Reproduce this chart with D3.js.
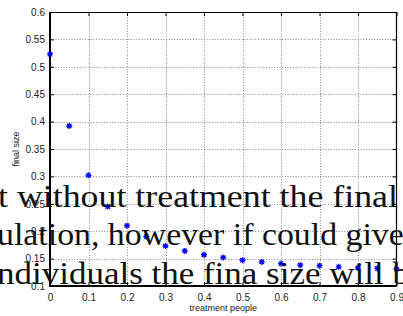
<!DOCTYPE html>
<html>
<head>
<meta charset="utf-8">
<script src="https://cdn.jsdelivr.net/npm/d3@7"></script>
<style>
  html, body { margin: 0; padding: 0; background: #fff; }
  svg { display: block; }
  .overlay { font-family: "Liberation Serif", "Times New Roman", Times, serif; }
  .sans { font-family: "Liberation Sans", Arial, Helvetica, sans-serif; }
</style>
</head>
<body>
<svg id="chart" width="403" height="316"></svg>
<script>
// ---- data ----
const treatment = [0, 0.05, 0.1, 0.15, 0.2, 0.25, 0.3, 0.35, 0.4, 0.45, 0.5, 0.55, 0.6, 0.65, 0.7, 0.75, 0.8, 0.85, 0.9];
const finalSize = [0.523, 0.392, 0.302, 0.245, 0.210, 0.190, 0.173, 0.164, 0.157, 0.152, 0.147, 0.144, 0.141, 0.138, 0.137, 0.135, 0.133, 0.132, 0.131];
const xTicks = [0, 0.1, 0.2, 0.3, 0.4, 0.5, 0.6, 0.7, 0.8, 0.9];
const yTicks = [0.1, 0.15, 0.2, 0.25, 0.3, 0.35, 0.4, 0.45, 0.5, 0.55, 0.6];
const xLabel = "treatment people";
const yLabel = "final size";
const overlayLines = [
  "t without treatment the final",
  "ulation, however if could give",
  "ndividuals the fina size will b"
];

// ---- layout ----
const L = 50, R = 396.5, T = 12, B = 286;
const svg = d3.select("#chart");
const x = d3.scaleLinear().domain([0, 0.9]).range([L, R]);
const y = d3.scaleLinear().domain([0.1, 0.6]).range([B, T]);

// grid
const grid = svg.append("g").attr("stroke", "#8a8a8a").attr("stroke-width", 1)
  .attr("stroke-dasharray", "1,1.7").attr("fill", "none");
xTicks.slice(1, -1).forEach(v => {
  grid.append("line").attr("x1", Math.round(x(v)) + 0.5).attr("x2", Math.round(x(v)) + 0.5)
    .attr("y1", T).attr("y2", B);
});
yTicks.slice(1, -1).forEach(v => {
  grid.append("line").attr("y1", Math.round(y(v)) + 0.5).attr("y2", Math.round(y(v)) + 0.5)
    .attr("x1", L).attr("x2", R);
});

// axes
const fmt = d => String(+d.toFixed(2));
const xAxis = d3.axisBottom(x).tickValues(xTicks).tickSize(-4).tickPadding(8).tickFormat(fmt);
const yAxis = d3.axisLeft(y).tickValues(yTicks).tickSize(-4).tickPadding(5).tickFormat(fmt);
const gx = svg.append("g").attr("transform", `translate(0,${B})`).call(xAxis);
const gy = svg.append("g").attr("transform", `translate(${L},0)`).call(yAxis);
const gxt = svg.append("g").attr("transform", `translate(0,${T})`).call(d3.axisTop(x).tickValues(xTicks).tickSize(-4).tickFormat(""));
const gyr = svg.append("g").attr("transform", `translate(${R},0)`).call(d3.axisRight(y).tickValues(yTicks).tickSize(-4).tickFormat(""));
[gx, gy, gxt, gyr].forEach(g => {
  g.attr("font-family", null).attr("class", "sans");
  g.select(".domain").remove();
  g.selectAll(".tick line").attr("stroke", "#000");
  g.selectAll("text").attr("font-size", 10).attr("fill", "#222");
});
gx.selectAll("text").attr("dy", "0.71em");

// box
svg.append("line").attr("x1", L).attr("x2", L).attr("y1", T).attr("y2", B + 1).attr("stroke", "#000").attr("stroke-width", 2);
svg.append("line").attr("x1", L - 1).attr("x2", R).attr("y1", B).attr("y2", B).attr("stroke", "#000").attr("stroke-width", 2);
svg.append("line").attr("x1", L).attr("x2", R).attr("y1", T + 0.5).attr("y2", T + 0.5).attr("stroke", "#000").attr("stroke-width", 1);
svg.append("line").attr("x1", R).attr("x2", R).attr("y1", T).attr("y2", B).attr("stroke", "#000").attr("stroke-width", 1.2);

// labels
svg.append("text").attr("class", "sans").attr("x", (L + R) / 2).attr("y", 311).attr("text-anchor", "middle")
  .attr("font-size", 9).attr("fill", "#222").text(xLabel);
svg.append("text").attr("class", "sans").attr("transform", `translate(18.5,${(T + B) / 2}) rotate(-90)`).attr("text-anchor", "middle")
  .attr("font-size", 9).attr("fill", "#222").text(yLabel);

// markers (asterisks)
const r = 3;
const star = `M${-r},0H${r}M0,${-r}V${r}M${-r*0.72},${-r*0.72}L${r*0.72},${r*0.72}M${-r*0.72},${r*0.72}L${r*0.72},${-r*0.72}`;
svg.append("g").selectAll("path").data(treatment.map((t, i) => [t, finalSize[i]])).join("path")
  .attr("transform", d => `translate(${x(d[0])},${y(d[1])})`)
  .attr("d", star).attr("stroke", "#0000ff").attr("stroke-width", 1.3).attr("fill", "none");

// overlay text (stretched horizontally to the measured line widths)
const lineBase = [207.3, 245.3, 283.5];
const lineX = [-2, -3, -3];
const lineLen = [400, 407, 413];
svg.append("g").selectAll("text").data(overlayLines).join("text")
  .attr("class", "overlay")
  .attr("x", 0).attr("y", 0)
  .attr("font-size", 31)
  .attr("fill", "#111").text(d => d)
  .each(function(d, i) {
    const w = this.getComputedTextLength();
    const s = lineLen[i] / w;
    d3.select(this).attr("transform", `translate(${lineX[i]},${lineBase[i]}) scale(${s},1)`);
  });
</script>
</body>
</html>
